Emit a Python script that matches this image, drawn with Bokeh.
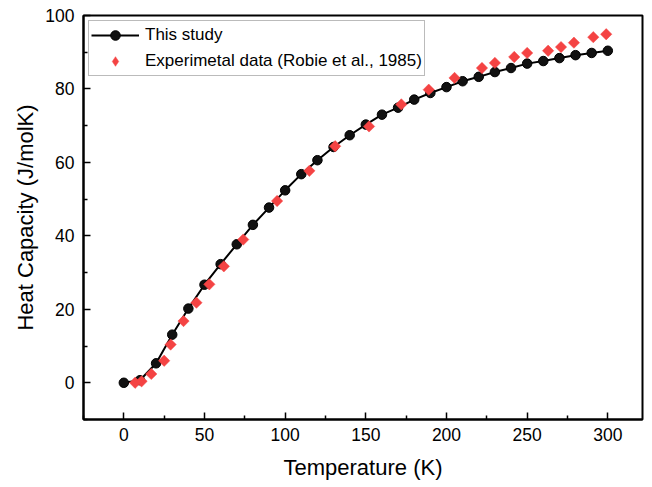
import math
from bokeh.plotting import figure
from bokeh.models import (Range1d, Legend, LegendItem, FixedTicker, ColumnDataSource,
                          CDSView, IndexFilter)
from bokeh.embed import file_html
from bokeh.resources import INLINE

# "This study" (calculated)
study_T = [0, 10, 20, 30, 40, 50, 60, 70, 80, 90, 100, 110, 120, 130, 140, 150,
           160, 170, 180, 190, 200, 210, 220, 230, 240, 250, 260, 270, 280, 290, 300]
study_Cp = [0.0, 0.7, 5.3, 13.1, 20.2, 26.7, 32.3, 37.7, 43.0, 47.7, 52.4, 56.8, 60.6,
            64.2, 67.4, 70.3, 73.0, 74.9, 77.1, 78.9, 80.5, 82.1, 83.3, 84.6, 85.7,
            86.9, 87.6, 88.4, 89.2, 89.8, 90.4]

# Experimental data (Robie et al., 1985)
exp_T = [7, 11, 17, 25, 29, 37, 45, 53, 62, 74, 95, 115, 131, 152, 172, 189,
         205, 222, 230, 242, 250, 263, 271, 279, 291, 299]
exp_Cp = [0.0, 0.4, 2.4, 6.0, 10.4, 16.8, 21.8, 26.8, 31.7, 39.0, 49.5, 57.7, 64.4,
          69.8, 75.8, 79.8, 83.0, 85.7, 87.1, 88.7, 89.8, 90.4, 91.4, 92.6, 94.1, 94.9]

x_ticks = [0, 50, 100, 150, 200, 250, 300]
x_minor = [-25, 25, 75, 125, 175, 225, 275]
y_ticks = [0, 20, 40, 60, 80, 100]
y_minor = [-10, 10, 30, 50, 70, 90]

FONT = "Liberation Sans"
RED = "#f44343"

p = figure(frame_width=559, frame_height=404, output_backend="svg", toolbar_location=None,
           x_range=Range1d(-25, 321.5), y_range=Range1d(-10, 100),
           min_border_left=83, min_border_right=2, min_border_top=15,
           min_border_bottom=52)

p.xgrid.visible = False
p.ygrid.visible = False
p.outline_line_color = "black"
p.outline_line_width = 2
p.background_fill_color = "white"
p.border_fill_color = "white"

for ax in (p.xaxis[0], p.yaxis[0]):
    ax.axis_line_width = 2
    ax.axis_line_color = "black"
    ax.major_tick_line_width = 1.5
    ax.minor_tick_line_width = 1.5
    ax.major_tick_in = 7
    ax.major_tick_out = 0
    ax.minor_tick_in = 4
    ax.minor_tick_out = 0
    ax.major_label_text_font = FONT
    ax.major_label_text_font_size = "17.5px"
    ax.major_label_text_color = "black"
    ax.axis_label_text_font = FONT
    ax.axis_label_text_font_size = "22px"
    ax.axis_label_text_font_style = "normal"
    ax.axis_label_text_color = "black"

p.xaxis.ticker = FixedTicker(ticks=x_ticks, minor_ticks=x_minor)
p.yaxis.ticker = FixedTicker(ticks=y_ticks, minor_ticks=y_minor)
p.xaxis.axis_label = "Temperature (K)"
p.yaxis.axis_label = "Heat Capacity (J/molK)"
p.xaxis.major_label_standoff = 8
p.yaxis.major_label_standoff = 9
p.xaxis.axis_label_standoff = 11
p.yaxis.axis_label_standoff = 4

exp_src = ColumnDataSource(data=dict(T=exp_T, Cp=exp_Cp))

# legend-only proxy (diamond shape): a single tiny point hidden beneath the real marker
dia_proxy = p.scatter("T", "Cp", source=exp_src, view=CDSView(filter=IndexFilter(indices=[0])),
                      marker="diamond", size=1, fill_color=RED, line_color=RED,
                      line_width=0.5)
line = p.line(study_T, study_Cp, line_color="black", line_width=2)
circ = p.scatter(study_T, study_Cp, marker="circle", size=9.5,
                 fill_color="#111111", line_color="black", line_width=1)
dia = p.scatter("T", "Cp", source=exp_src, marker="square", size=8, angle=math.pi / 4,
                fill_color=RED, line_color=RED, line_width=0.5)

legend = Legend(items=[
    LegendItem(label="This study", renderers=[line, circ]),
    LegendItem(label="Experimetal data (Robie et al., 1985)", renderers=[dia_proxy]),
], location="top_left")
legend.label_text_font = FONT
legend.label_text_font_size = "17px"
legend.label_text_color = "black"
legend.border_line_color = "#777777"
legend.border_line_width = 1
legend.background_fill_alpha = 1
legend.margin = 5
legend.padding = 2
legend.spacing = 2
legend.glyph_width = 48
legend.glyph_height = 24
legend.label_height = 24
legend.label_standoff = 6
p.add_layout(legend)

open("out.html", "w").write(file_html(p, INLINE))
